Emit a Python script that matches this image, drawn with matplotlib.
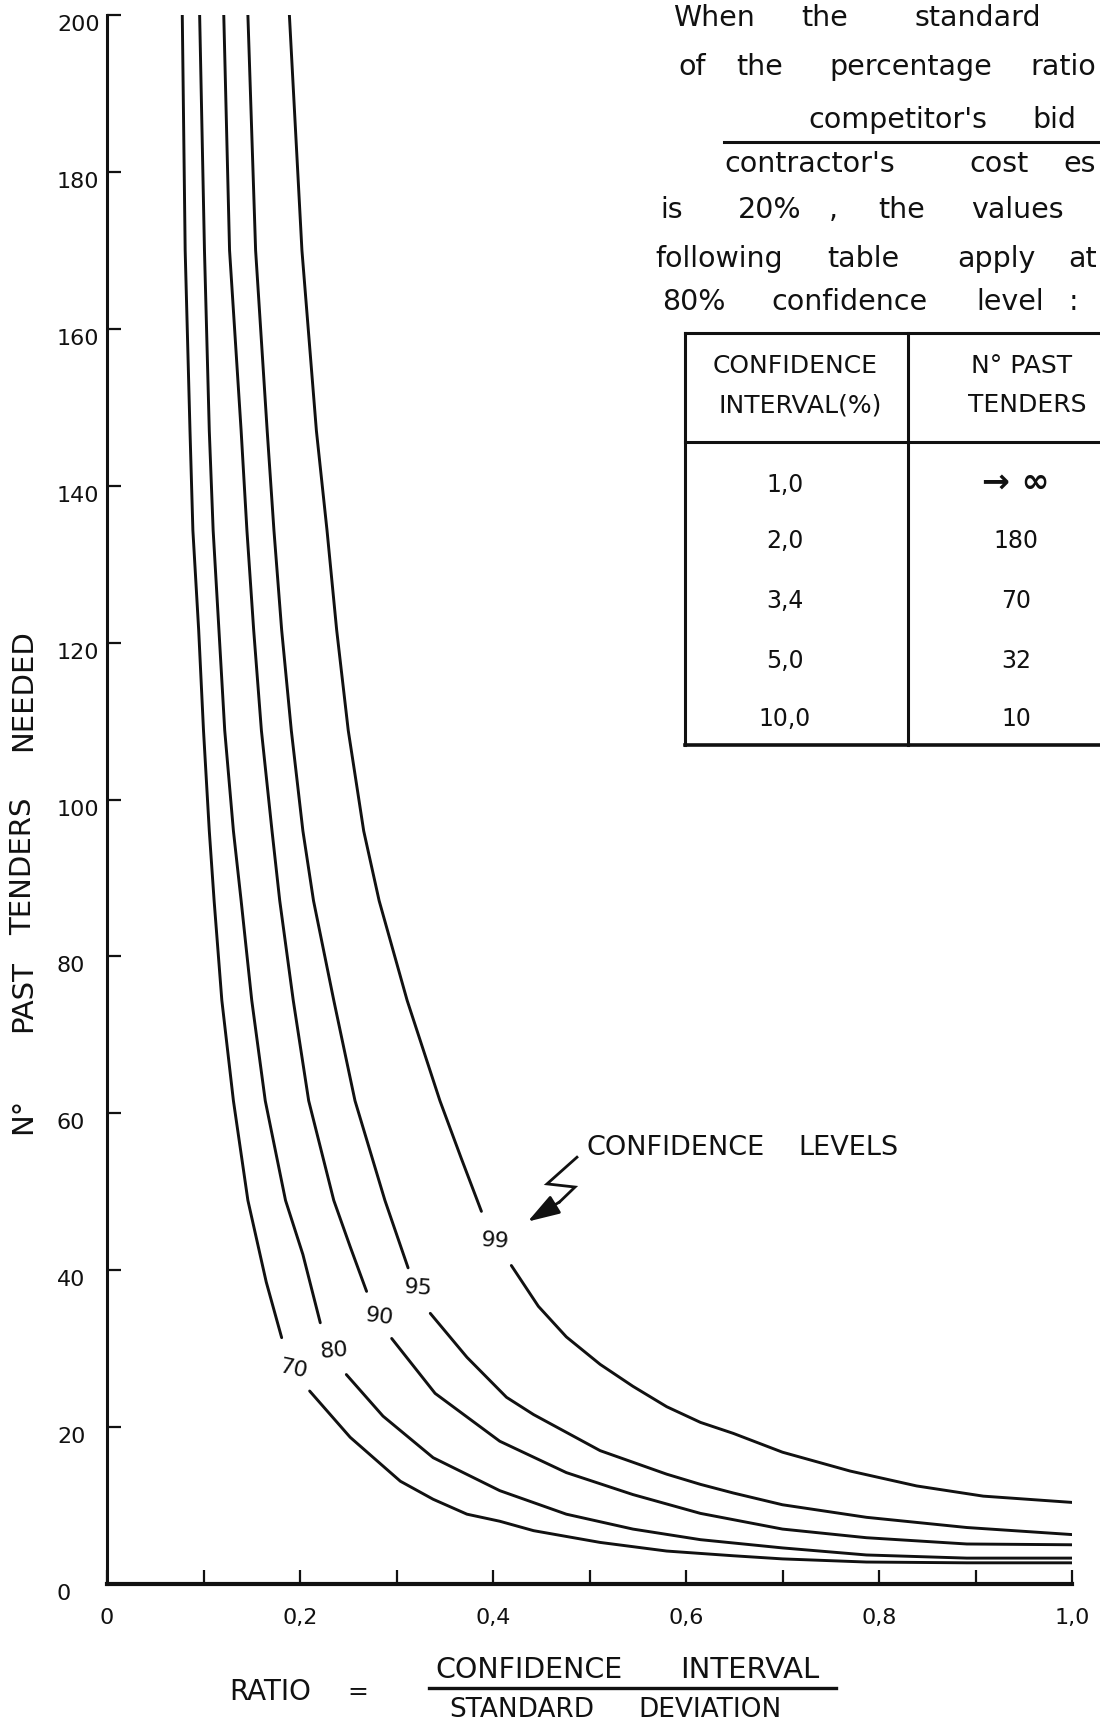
import numpy as np
import matplotlib
matplotlib.use("Agg")
import matplotlib.pyplot as plt
from matplotlib.lines import Line2D

W, H, DPI = 1100, 1725, 100
nan = np.nan

# ---- axis ticks -------------------------------------------------------------
X_TICKS = [0.0, 0.2, 0.4, 0.6, 0.8, 1.0]
X_TICK_LABELS = ["0", "0,2", "0,4", "0,6", "0,8", "1,0"]
X_MINOR_TICKS = [0.1, 0.3, 0.5, 0.7, 0.9]
Y_TICKS = [0, 20, 40, 60, 80, 100, 120, 140, 160, 180, 200]
Y_TICK_LABELS = ["0", "20", "40", "60", "80", "100", "120", "140", "160", "180", "200"]

# ---- curves: number of past tenders needed vs. ratio, per confidence level ---
# NaN marks the gap left for the level label written on the curve.
LEVELS = ["70", "80", "90", "95", "99"]

RATIO_70 = [0.078, 0.081, 0.086, 0.089, 0.095, 0.100, 0.106, 0.111, 0.119,
            0.131, 0.146, 0.165, 0.181, nan,
            0.210, 0.252, 0.304, 0.338, 0.373, 0.407, 0.442, 0.511, 0.580, 0.649,
            0.700, 0.787, 0.891, 1.0]
TENDERS_70 = [200, 170, 147, 134.3, 121.6, 108.8, 96.0, 87.1, 74.4,
              61.6, 48.9, 38.5, 31.4, nan,
              24.6, 18.7, 13.1, 10.8, 8.9, 8.0, 6.8, 5.3, 4.2, 3.6,
              3.2, 2.8, 2.7, 2.7]

RATIO_80 = [0.096, 0.101, 0.106, 0.110, 0.116, 0.122, 0.131, 0.139, 0.150,
            0.164, 0.185, 0.203, 0.221, nan,
            0.248, 0.286, 0.338, 0.407, 0.476, 0.545, 0.615, 0.700, 0.787, 0.891, 1.0]
TENDERS_80 = [200, 170, 147, 134.3, 121.6, 108.8, 96.0, 87.1, 74.4,
              61.6, 48.9, 42.0, 33.3, nan,
              26.7, 21.4, 16.1, 11.9, 8.9, 7.0, 5.65, 4.6, 3.7, 3.3, 3.3]

RATIO_90 = [0.121, 0.127, 0.139, 0.145, 0.152, 0.160, 0.171, 0.179, 0.193,
            0.209, 0.235, 0.252, 0.269, nan,
            0.295, 0.340, 0.407, 0.476, 0.545, 0.615, 0.700, 0.787, 0.891, 1.0]
TENDERS_90 = [200, 170, 147, 134.3, 121.6, 108.8, 96.0, 87.1, 74.4,
              61.6, 48.9, 43.0, 37.3, nan,
              31.3, 24.3, 18.2, 14.2, 11.4, 9.0, 7.0, 5.9, 5.1, 5.0]

RATIO_95 = [0.146, 0.154, 0.166, 0.173, 0.181, 0.191, 0.203, 0.214, 0.235,
            0.257, 0.288, 0.312, nan,
            0.335, 0.373, 0.414, 0.442, 0.511, 0.580, 0.615, 0.649, 0.700, 0.787,
            0.891, 1.0]
TENDERS_95 = [200, 170, 147, 134.3, 121.6, 108.8, 96.0, 87.1, 74.4,
              61.6, 48.9, 40.3, nan,
              34.5, 28.9, 23.8, 21.6, 17.0, 14.0, 12.7, 11.6, 10.1, 8.5,
              7.2, 6.3]

RATIO_99 = [0.189, 0.202, 0.217, 0.228, 0.238, 0.250, 0.266, 0.282, 0.311,
            0.345, 0.367, 0.388, nan,
            0.419, 0.447, 0.476, 0.511, 0.545, 0.580, 0.615, 0.649, 0.700, 0.770,
            0.839, 0.908, 1.0]
TENDERS_99 = [200, 170, 147, 134.3, 121.6, 108.8, 96.0, 87.1, 74.4,
              61.6, 54.3, 47.5, nan,
              40.6, 35.4, 31.5, 28.0, 25.2, 22.6, 20.6, 19.2, 16.8, 14.4,
              12.5, 11.2, 10.4]

CURVES = [(RATIO_70, TENDERS_70), (RATIO_80, TENDERS_80), (RATIO_90, TENDERS_90),
          (RATIO_95, TENDERS_95), (RATIO_99, TENDERS_99)]

# ---- side table (80 % confidence level, 20 % standard deviation) ------------
TABLE_HEADER_1 = ["CONFIDENCE", "INTERVAL(%)"]
TABLE_HEADER_2 = ["N° PAST", "TENDERS"]
TABLE_INTERVALS = ["1,0", "2,0", "3,4", "5,0", "10,0"]
TABLE_TENDERS = ["→ ∞", "180", "70", "32", "10"]

INK = "#111111"
plt.rcParams["font.family"] = ["DejaVu Sans"]


def fpos(x, y):
    """Pixel position on the sheet -> figure fraction."""
    return x / W, 1 - y / H


fig = plt.figure(figsize=(W / DPI, H / DPI), dpi=DPI)
fig.patch.set_facecolor("white")

# plot area: ratio 0..1 spans px 107..1072, tenders 0..200 spans px 1584..15
x0, x1 = 107, 1072
y0, y1 = 1584, 15
ax = fig.add_axes([x0 / W, 1 - y0 / H, (x1 - x0) / W, (y0 - y1) / H])
ax.set_xlim(0, 1.0)
ax.set_ylim(0, 200)
ax.set_facecolor("white")

for side in ("top", "right"):
    ax.spines[side].set_visible(False)
ax.spines["left"].set_linewidth(2.2)
ax.spines["bottom"].set_linewidth(3.0)
ax.spines["left"].set_color(INK)
ax.spines["bottom"].set_color(INK)

ax.set_xticks(X_TICKS, labels=X_TICK_LABELS)
ax.set_xticks(X_MINOR_TICKS, minor=True)
ax.set_yticks(Y_TICKS, labels=Y_TICK_LABELS)
ax.tick_params(axis="x", which="both", direction="in", length=10, width=1.6,
               color=INK, labelsize=16, pad=17, labelcolor=INK)
ax.tick_params(axis="y", direction="in", length=10, width=1.6, color=INK,
               labelsize=16, pad=36, labelcolor=INK)
for lbl in ax.get_yticklabels():
    lbl.set_horizontalalignment("left")
    lbl.set_verticalalignment("top")

for rx, ty in CURVES:
    ax.plot(rx, ty, color=INK, lw=2.1, solid_capstyle="round",
            solid_joinstyle="round")

# level labels written in the gaps of the curves
LABEL_RATIO = [0.193, 0.235, 0.282, 0.323, 0.402]
LABEL_TENDERS = [27.4, 29.7, 34.0, 37.7, 43.7]
LABEL_ROT = [-12, 5, -7, -4, -4]
for lev, lx, ly, rot in zip(LEVELS, LABEL_RATIO, LABEL_TENDERS, LABEL_ROT):
    ax.text(lx, ly, lev, ha="center", va="center", fontsize=16, color=INK,
            rotation=rot)

# "CONFIDENCE LEVELS" callout with zig-zag arrow
ZIG_R = [0.487, 0.456, 0.485, 0.469]
ZIG_T = [54.4, 51.0, 50.6, 48.7]
ax.plot(ZIG_R, ZIG_T, color=INK, lw=2.0, solid_joinstyle="miter")
ax.annotate("", xy=(0.436, 46.2), xytext=(ZIG_R[-1], ZIG_T[-1]),
            arrowprops=dict(arrowstyle="-|>,head_length=1.4,head_width=0.45",
                            color=INK, lw=2.0, mutation_scale=14,
                            shrinkA=0, shrinkB=0))
fig.text(*fpos(586, 1148), "CONFIDENCE", fontsize=19.5, color=INK,
         ha="left", va="center")
fig.text(*fpos(798, 1148), "LEVELS", fontsize=19.5, color=INK,
         ha="left", va="center")

# y-axis title, written bottom to top
for word, yc in [("N°", 1116), ("PAST", 996), ("TENDERS", 866), ("NEEDED", 690)]:
    fig.text(*fpos(23, yc), word, rotation=90, fontsize=21, color=INK,
             ha="center", va="center")

# x-axis title as a fraction
fig.text(*fpos(229, 1692), "RATIO", fontsize=20, color=INK, ha="left", va="center")
fig.text(*fpos(358, 1692), "=", fontsize=18, color=INK, ha="center", va="center")
fig.text(*fpos(435, 1670), "CONFIDENCE", fontsize=20.5, color=INK, ha="left", va="center")
fig.text(*fpos(680, 1670), "INTERVAL", fontsize=21, color=INK, ha="left", va="center")
fig.text(*fpos(449, 1710), "STANDARD", fontsize=19, color=INK, ha="left", va="center")
fig.text(*fpos(638, 1710), "DEVIATION", fontsize=19, color=INK, ha="left", va="center")
fig.add_artist(Line2D([429 / W, 836 / W], [1 - 1688 / H, 1 - 1688 / H],
                      color=INK, lw=2.4, transform=fig.transFigure))

# explanatory note beside the plot
NOTE_LINES = [
    (26, [("When", 673), ("the", 801), ("standard", 915)]),
    (75, [("of", 678), ("the", 736), ("percentage", 829), ("ratio", 1030)]),
    (128, [("competitor's", 808), ("bid", 1032)]),
    (172, [("contractor's", 724), ("cost", 969), ("es", 1063)]),
    (218, [("is", 660), ("20%", 738), (",", 829), ("the", 878), ("values", 971)]),
    (267, [("following", 655), ("table", 827), ("apply", 957), ("at", 1068)]),
    (310, [("80%", 662), ("confidence", 771), ("level", 976), (":", 1069)]),
]
for base, words in NOTE_LINES:
    for word, xw in words:
        fig.text(*fpos(xw, base), word, fontsize=20.5, color=INK,
                 ha="left", va="baseline")
fig.add_artist(Line2D([724 / W, 1.0], [1 - 142 / H, 1 - 142 / H],
                      color=INK, lw=2.2, transform=fig.transFigure))


# table frame
def hline(y, xa, xb, lw=2.2):
    fig.add_artist(Line2D([xa / W, xb / W], [1 - y / H, 1 - y / H],
                          color=INK, lw=lw, transform=fig.transFigure))


def vline(x, ya, yb, lw=2.2):
    fig.add_artist(Line2D([x / W, x / W], [1 - ya / H, 1 - yb / H],
                          color=INK, lw=lw, transform=fig.transFigure))


hline(333, 685, 1110)
hline(442, 685, 1110)
hline(745, 685, 1110, lw=2.6)
vline(685, 333, 745)
vline(908, 333, 745)

fig.text(*fpos(795, 373), TABLE_HEADER_1[0], fontsize=18, color=INK, ha="center", va="baseline")
fig.text(*fpos(800, 412), TABLE_HEADER_1[1], fontsize=18, color=INK, ha="center", va="baseline")
fig.text(*fpos(1022, 373), TABLE_HEADER_2[0], fontsize=18, color=INK, ha="center", va="baseline")
fig.text(*fpos(1027, 412), TABLE_HEADER_2[1], fontsize=18, color=INK, ha="center", va="baseline")

ROW_BASE = [492, 548, 608, 668, 726]
for yb, ci, nt in zip(ROW_BASE, TABLE_INTERVALS, TABLE_TENDERS):
    fig.text(*fpos(785, yb), ci, fontsize=17, color=INK, ha="center", va="baseline")
    size = 24 if "∞" in nt else 17
    fig.text(*fpos(1016, yb), nt, fontsize=size, color=INK, ha="center",
             va="baseline", fontweight="bold" if "∞" in nt else "normal")

fig.savefig("out.png", dpi=DPI, facecolor="white")
